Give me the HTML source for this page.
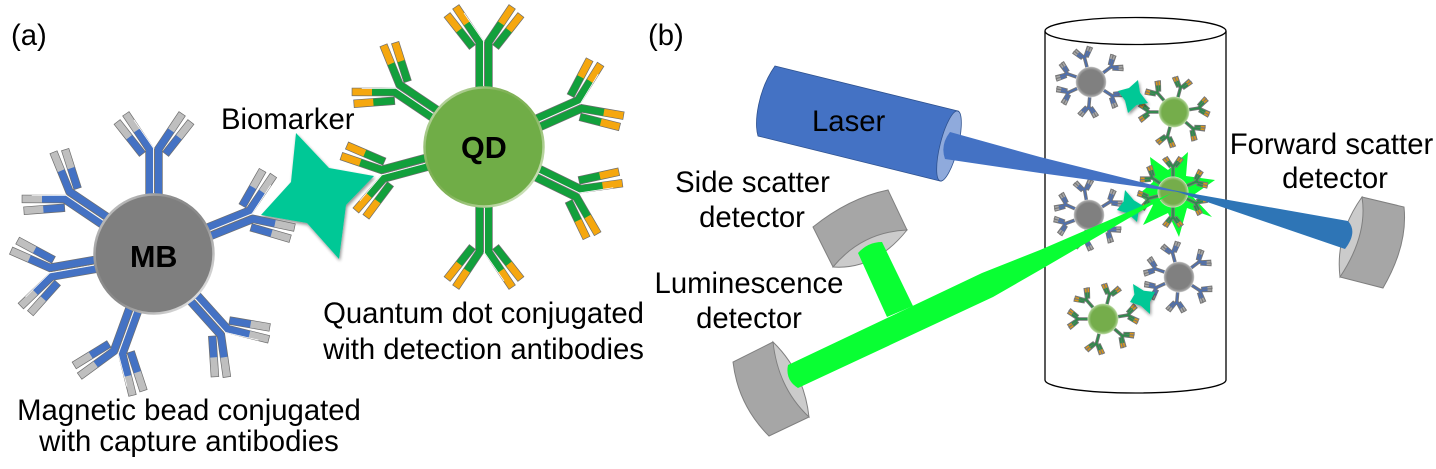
<!DOCTYPE html>
<html><head><meta charset="utf-8"><style>
html,body{margin:0;padding:0;background:#fff;width:1436px;height:469px;overflow:hidden}
svg{display:block}
text{font-family:"Liberation Sans",Arial,sans-serif;font-size:29.3px;fill:#000}
</style></head><body>
<svg width="1436" height="469" viewBox="0 0 1436 469" xmlns="http://www.w3.org/2000/svg">
<defs>
<g id="abM" fill="none" stroke-linejoin="miter" stroke-linecap="square">
<g stroke="#6e6e6e" stroke-width="8.4">
<path d="M-4.5 0V-46L-26 -78"/><path d="M4.5 0V-46L26 -78"/><path d="M-14 -44L-34.5 -70"/><path d="M14 -44L34.5 -70"/></g>
<g stroke="#4472c4" stroke-width="7">
<path d="M-4.5 0V-46L-17 -64.5"/><path d="M4.5 0V-46L17 -64.5"/><path d="M-14 -44L-25 -58"/><path d="M14 -44L25 -58"/></g>
<g stroke="#bfbfbf" stroke-width="7">
<path d="M-19 -67.5L-26 -78"/><path d="M19 -67.5L26 -78"/><path d="M-27 -60.5L-34.5 -70"/><path d="M27 -60.5L34.5 -70"/></g>
<g stroke="#fff" stroke-width=".8" stroke-linecap="butt">
<path d="M-.6 -2V-47L-20 -75"/></g>
<path d="M.4 -2V-46" stroke="#6e6e6e" stroke-width=".6" stroke-linecap="butt"/>
</g>
<g id="abQ" fill="none" stroke-linejoin="miter" stroke-linecap="square">
<g stroke="#6e6e6e" stroke-width="8.4">
<path d="M-4.5 0V-46L-26 -78"/><path d="M4.5 0V-46L26 -78"/><path d="M-14 -44L-34.5 -70"/><path d="M14 -44L34.5 -70"/></g>
<g stroke="#12a03c" stroke-width="7">
<path d="M-4.5 0V-46L-17 -64.5"/><path d="M4.5 0V-46L17 -64.5"/><path d="M-14 -44L-25 -58"/><path d="M14 -44L25 -58"/></g>
<g stroke="#f5a70f" stroke-width="7">
<path d="M-19 -67.5L-26 -78"/><path d="M19 -67.5L26 -78"/><path d="M-27 -60.5L-34.5 -70"/><path d="M27 -60.5L34.5 -70"/></g>
<g stroke="#fff" stroke-width=".8" stroke-linecap="butt">
<path d="M-.6 -2V-47L-20 -75"/></g>
<path d="M.4 -2V-46" stroke="#6e6e6e" stroke-width=".6" stroke-linecap="butt"/>
</g>
<g id="abMm" fill="none" stroke-linecap="square">
<g stroke="#777" stroke-width="14">
<path d="M0 0V-46"/><path d="M-4 -46L-24 -76"/><path d="M4 -46L24 -76"/><path d="M-14 -46L-34 -70"/><path d="M14 -46L34 -70"/></g>
<g stroke="#4f6fae" stroke-width="7">
<path d="M0 0V-46"/><path d="M-4 -46L-17 -64"/><path d="M4 -46L17 -64"/><path d="M-14 -46L-25 -58"/><path d="M14 -46L25 -58"/></g>
<g stroke="#a8a8a8" stroke-width="6">
<path d="M-20 -68L-25 -76"/><path d="M20 -68L25 -76"/><path d="M-28 -62L-34 -70"/><path d="M28 -62L34 -70"/></g>
</g>
<g id="abQm" fill="none" stroke-linecap="square">
<g stroke="#777" stroke-width="14">
<path d="M0 0V-46"/><path d="M-4 -46L-24 -76"/><path d="M4 -46L24 -76"/><path d="M-14 -46L-34 -70"/><path d="M14 -46L34 -70"/></g>
<g stroke="#2e8a4c" stroke-width="7">
<path d="M0 0V-46"/><path d="M-4 -46L-17 -64"/><path d="M4 -46L17 -64"/><path d="M-14 -46L-25 -58"/><path d="M14 -46L25 -58"/></g>
<g stroke="#d8961e" stroke-width="6">
<path d="M-20 -68L-25 -76"/><path d="M20 -68L25 -76"/><path d="M-28 -62L-34 -70"/><path d="M28 -62L34 -70"/></g>
</g>
<linearGradient id="rimG" x1="0" y1="0" x2="1" y2="1">
<stop offset="0" stop-color="#d8d8d8"/><stop offset=".35" stop-color="#8c8c8c"/><stop offset=".55" stop-color="#8a8a8a"/><stop offset="1" stop-color="#fff"/></linearGradient>
<linearGradient id="rimQ" x1="0" y1="0" x2="1" y2="1">
<stop offset="0" stop-color="#d6e6c6"/><stop offset=".35" stop-color="#80b257"/><stop offset=".55" stop-color="#80b257"/><stop offset="1" stop-color="#eaf4e0"/></linearGradient>
<g id="MBall">
<use href="#abM" transform="rotate(0) translate(0 -59)"/>
<use href="#abM" transform="rotate(68) translate(0 -59)"/>
<use href="#abM" transform="rotate(138) translate(0 -59)"/>
<use href="#abM" transform="rotate(200) translate(0 -59)"/>
<use href="#abM" transform="rotate(260) translate(0 -59)"/>
<use href="#abM" transform="rotate(304) translate(0 -59)"/>
<circle r="59.5" fill="#7f7f7f" stroke="url(#rimG)" stroke-width="2.5"/>
</g>
<g id="QDall">
<use href="#abQ" transform="rotate(0) translate(0 -59)"/>
<use href="#abQ" transform="rotate(66) translate(0 -59)"/>
<use href="#abQ" transform="rotate(116) translate(0 -59)"/>
<use href="#abQ" transform="rotate(180) translate(0 -59)"/>
<use href="#abQ" transform="rotate(255) translate(0 -59)"/>
<use href="#abQ" transform="rotate(304) translate(0 -59)"/>
<circle r="59.5" fill="#70ad47" stroke="url(#rimQ)" stroke-width="2.5"/>
</g>
<radialGradient id="glossM" cx=".5" cy=".5" r=".5"><stop offset=".78" stop-color="#808080"/><stop offset=".94" stop-color="#aaa"/><stop offset="1" stop-color="#f2f2f2"/></radialGradient>
<radialGradient id="glossQ" cx=".5" cy=".5" r=".5"><stop offset=".78" stop-color="#74ad4b"/><stop offset=".94" stop-color="#a4cc88"/><stop offset="1" stop-color="#e8f3dc"/></radialGradient>
<g id="miniM">
<use href="#abMm" transform="rotate(0) translate(0 -59)"/>
<use href="#abMm" transform="rotate(68) translate(0 -59)"/>
<use href="#abMm" transform="rotate(138) translate(0 -59)"/>
<use href="#abMm" transform="rotate(200) translate(0 -59)"/>
<use href="#abMm" transform="rotate(260) translate(0 -59)"/>
<use href="#abMm" transform="rotate(304) translate(0 -59)"/>
<circle r="62" fill="url(#glossM)"/></g>
<g id="miniQ">
<use href="#abQm" transform="rotate(0) translate(0 -59)"/>
<use href="#abQm" transform="rotate(66) translate(0 -59)"/>
<use href="#abQm" transform="rotate(116) translate(0 -59)"/>
<use href="#abQm" transform="rotate(180) translate(0 -59)"/>
<use href="#abQm" transform="rotate(255) translate(0 -59)"/>
<use href="#abQm" transform="rotate(304) translate(0 -59)"/>
<circle r="62" fill="url(#glossQ)"/></g>
<filter id="sh" x="-20%" y="-20%" width="140%" height="140%"><feGaussianBlur in="SourceAlpha" stdDeviation="1.5"/><feOffset dx="1" dy="2"/><feComponentTransfer><feFuncA type="linear" slope=".45"/></feComponentTransfer><feMerge><feMergeNode/><feMergeNode in="SourceGraphic"/></feMerge></filter>
<filter id="soft"><feGaussianBlur stdDeviation=".35"/></filter>
</defs>

<!-- panel a -->
<path d="M296 133L329 168L374 176L346 205L339 259L307 223L261 215L291 182Z" fill="#00c896" filter="url(#sh)"/>
<use href="#MBall" transform="translate(154 254)"/>
<use href="#QDall" transform="translate(484 147)"/>
<text x="11" y="45">(a)</text>
<text x="221" y="129">Biomarker</text>
<text x="130" y="267" style="font-size:30.5px;font-weight:bold">MB</text>
<text x="461" y="158" style="font-size:30.5px;font-weight:bold">QD</text>
<text x="483.5" y="323" text-anchor="middle">Quantum dot conjugated</text>
<text x="483.5" y="359" text-anchor="middle">with detection antibodies</text>
<text x="189" y="420" text-anchor="middle">Magnetic bead conjugated</text>
<text x="189" y="451" text-anchor="middle">with capture antibodies</text>

<!-- panel b -->
<text x="648" y="45">(b)</text>
<path d="M1045 31V380A90.5 13 0 0 0 1226 380V31" fill="#fff" stroke="#000" stroke-width="1.3"/>
<ellipse cx="1135.5" cy="31" rx="90.5" ry="13.5" fill="#fff" stroke="#000" stroke-width="1.3"/>

<polygon points="1188,152 1186,176 1215,180 1192,196 1212,217 1187,208 1179,237 1168,213 1143,225 1153,205 1138,195 1153,182 1150,157 1168,170" fill="#09ff33"/>
<g filter="url(#soft)">
<use href="#miniM" transform="translate(1091 82) rotate(-15) scale(.25)"/>
<use href="#miniQ" transform="translate(1174 112) rotate(15) scale(.25)"/>
<use href="#miniM" transform="translate(1089 215) rotate(-10) scale(.25)"/>
<use href="#miniQ" transform="translate(1173 192) scale(.25)"/>
<use href="#miniM" transform="translate(1179 277) rotate(-15) scale(.25)"/>
<use href="#miniQ" transform="translate(1103 319) rotate(15) scale(.25)"/>
</g>
<polygon points="1138,80 1140,92.6 1148,103 1136.5,105 1128,113 1125,100.5 1118,91 1129,88" fill="#00c896" filter="url(#sh)"/>
<polygon points="1125,190 1134,200.4 1145,207 1138.5,212.4 1137,222 1128,213.5 1117,210 1123.5,201.5" fill="#00c896" filter="url(#sh)"/>
<polygon points="1133,284 1143.8,290.8 1155,292 1150,302 1150,314 1140.8,305.8 1130,302 1134.4,294.5" fill="#00c896" filter="url(#sh)"/>

<!-- laser -->
<path d="M775 66L958 111A8 36 14 0 1 940 181L758 136C754 122 758 90 775 66Z" fill="#4472c4" stroke="#2f528f" stroke-width=".8"/>
<ellipse cx="949" cy="146" rx="9" ry="36" transform="rotate(14 949 146)" fill="#8faadc" stroke="#2f528f" stroke-width=".8"/>
<path d="M950 132L1040 157L1185 193L1040 173L945 159Q940 145 950 132Z" fill="#4472c4"/>

<!-- forward detector -->
<g stroke="#7f7f7f" stroke-width="1">
<path d="M1362 197L1404 207Q1408 245 1383 288L1340 277Q1340 235 1362 197Z" fill="#a6a6a6"/>
<path d="M1362 197Q1368 235 1340 277Q1335 235 1362 197Z" fill="#cbcbcb"/>
</g>
<path d="M1172 190L1348 221Q1358 232 1345 249Z" fill="#2e75b6"/>

<!-- side scatter detector -->
<g stroke="#7f7f7f" stroke-width="1">
<path d="M813 227Q849 198 888 190L907 230L833 267Z" fill="#a6a6a6"/>
<path d="M907 230Q862 232 833 267Q875 270 907 230Z" fill="#cbcbcb"/>
</g>
<!-- luminescence detector -->
<g stroke="#7f7f7f" stroke-width="1">
<path d="M773 342L733 362Q738 405 769 436L809 417Z" fill="#a6a6a6"/>
<path d="M773 342Q778 388 809 417Q804 372 773 342Z" fill="#cbcbcb"/>
</g>
<!-- green beams -->
<path d="M858 253Q868 242 882 242L913 306L887 317Z" fill="#09ff33"/>
<path d="M788 365L982 273L1040 250L1172 193L1040 270L993 297L798 388Q785 380 788 365Z" fill="#09ff33"/>

<text x="812" y="131">Laser</text>
<text x="752.5" y="192" text-anchor="middle">Side scatter</text>
<text x="752" y="227" text-anchor="middle">detector</text>
<text x="749" y="293" text-anchor="middle">Luminescence</text>
<text x="749" y="328" text-anchor="middle">detector</text>
<text x="1331.5" y="154" text-anchor="middle">Forward scatter</text>
<text x="1335" y="188" text-anchor="middle">detector</text>
</svg>
</body></html>
